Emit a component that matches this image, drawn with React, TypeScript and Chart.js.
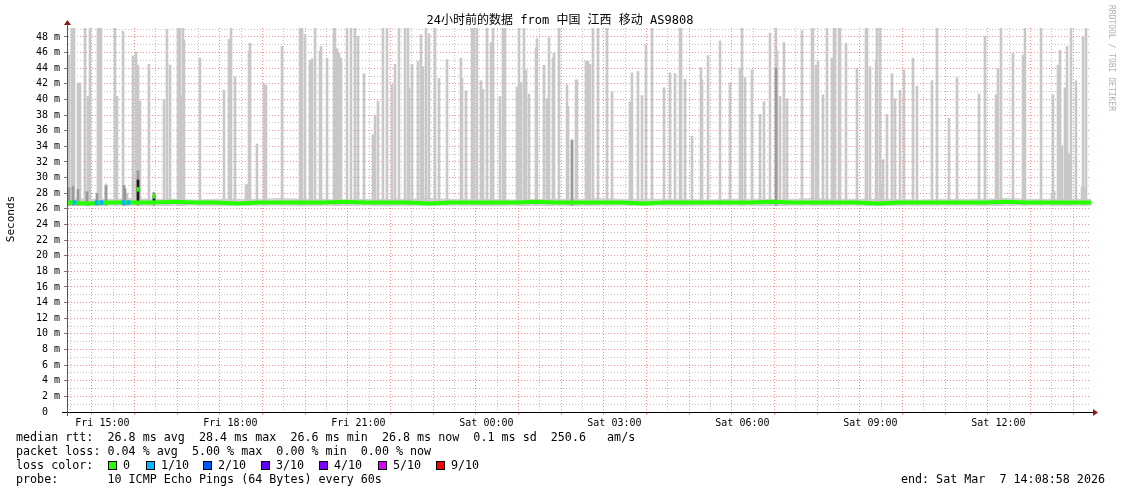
import React, { useEffect, useRef } from 'react';
import { Chart, registerables } from 'chart.js';

Chart.register(...registerables);

// ---------- time axis ----------
const AXIS_START_HOUR = 14.17; // left edge of the plot (Fri ~14:10)
const AXIS_SPAN_HOURS = 24;
const SAMPLE_STEP_SECONDS = 84.375; // one consolidated RRD sample per slot

const xTickHours = [15, 18, 21, 24, 27, 30, 33, 36];
const xTickLabels = ['Fri 15:00', 'Fri 18:00', 'Fri 21:00', 'Sat 00:00', 'Sat 03:00', 'Sat 06:00', 'Sat 09:00', 'Sat 12:00'];

// ---------- value axis (seconds, shown in ms "m") ----------
const Y_MAX = 49.15;
const yTickValues = [0, 2, 4, 6, 8, 10, 12, 14, 16, 18, 20, 22, 24, 26, 28, 30, 32, 34, 36, 38, 40, 42, 44, 46, 48];
const yTickLabels = ['0  ', '2 m', '4 m', '6 m', '8 m', '10 m', '12 m', '14 m', '16 m', '18 m', '20 m', '22 m', '24 m', '26 m', '28 m', '30 m', '32 m', '34 m', '36 m', '38 m', '40 m', '42 m', '44 m', '46 m', '48 m'];

// ---------- median rtt (ms), one value every 30 minutes from axis start ----------
const medianHalfHourly = [26.8, 26.7, 26.8, 26.8, 26.8, 26.9, 26.8, 26.8, 26.7, 26.8, 26.8, 26.8, 26.8, 26.9, 26.8, 26.8, 26.8, 26.7, 26.8, 26.8, 26.8, 26.8, 26.9, 26.8, 26.8, 26.8, 26.8, 26.7, 26.8, 26.8, 26.8, 26.8, 26.8, 26.9, 26.8, 26.8, 26.8, 26.8, 26.7, 26.8, 26.8, 26.8, 26.8, 26.8, 26.9, 26.8, 26.8, 26.8, 26.8];
const smokeLowHalfHourly = [26.4, 26.35, 26.4, 26.4, 26.35, 26.4, 26.4, 26.35, 26.4, 26.4, 26.4, 26.35, 26.4, 26.4, 26.4, 26.35, 26.4, 26.4, 26.4, 26.4, 26.35, 26.4, 26.4, 26.4, 26.35, 26.4, 26.4, 26.4, 26.4, 26.35, 26.4, 26.4, 26.4, 26.35, 26.4, 26.4, 26.4, 26.4, 26.35, 26.4, 26.4, 26.4, 26.4, 26.35, 26.4, 26.4, 26.4, 26.4, 26.4];
const smokeHighHalfHourly = [27.4, 27.3, 27.3, 27.4, 27.3, 27.3, 27.2, 27.3, 27.3, 27.3, 27.4, 27.3, 27.3, 27.2, 27.3, 27.3, 27.3, 27.4, 27.3, 27.3, 27.3, 27.2, 27.3, 27.3, 27.3, 27.4, 27.3, 27.3, 27.3, 27.3, 27.2, 27.3, 27.3, 27.3, 27.3, 27.4, 27.3, 27.3, 27.3, 27.3, 27.2, 27.3, 27.3, 27.3, 27.4, 27.3, 27.3, 27.3, 27.3];

// ---------- smoke (spread of the 10 pings), per sample slot ----------
const SMOKE_FLOOR = 26.45;
const spikeSlots = [
  2, 5, 7, 11, 12, 13, 18, 21, 23, 31, 33, 34, 39, 48, 50, 56, 60, 66, 69, 71, 73, 82, 97, 100, 103, 111, 112, 113, 114, 116, 117, 133, 157, 162, 164, 168, 179, 180, 181, 182, 183, 190, 197, 199, 215, 233, 235, 238, 243, 245, 248, 253,
  254, 260, 267, 268, 270, 272, 274, 280, 284, 288, 291, 297, 306, 308, 311, 316, 320, 325, 328, 332, 338, 341, 342, 345, 351, 354, 356, 359, 362, 368, 372, 380, 394, 395, 399, 405, 407, 410, 414, 416, 420, 424, 426, 433, 436, 438, 450, 452, 454, 457, 459, 462, 469, 470, 477, 480, 482, 486, 487, 492, 500, 501, 505, 509, 510,
  519, 520, 521, 523, 526, 531, 540, 545, 563, 565, 571, 575, 579, 585, 597, 603, 608, 613, 614, 618, 625, 634, 635, 641, 653, 663, 673, 675, 678, 685, 693, 697, 703, 709, 710, 713, 717, 720, 735, 745, 746, 749, 751, 756, 760, 765,
  767, 768, 772, 773, 779, 790, 799, 800, 803, 809, 810, 813, 815, 816, 820, 825, 828, 833, 837, 846, 850, 865, 870, 882, 890, 912, 918, 929, 931, 934, 946, 956, 958, 974, 985, 986, 987, 991, 993, 995, 998, 1000, 1002, 1004, 1009, 1015, 1016, 1017, 1019,
];
const spikeTops = [
  45.7, 49.2, 49.2, 42.1, 42.1, 42.1, 49.2, 40.4, 49.2, 49.2, 49.2, 49.2, 29.2, 49.2, 40.4, 48.7, 28.0, 45.6, 46.1, 44.4, 39.8, 44.5, 40.0, 49.0, 44.4, 49.2, 49.2, 49.2, 40.5, 49.2, 47.6, 45.3, 41.2, 47.7, 49.2, 42.9, 29.1, 29.1, 29.1, 46.2, 47.2, 34.3, 42.0, 41.8, 46.8, 49.2, 49.2, 48.3, 45.0, 45.2, 49.2, 46.2,
  46.8, 45.3, 49.2, 49.2, 46.5, 45.9, 45.3, 49.2, 49.2, 49.2, 48.1, 43.3, 35.5, 38.0, 39.8, 49.2, 49.2, 41.9, 44.5, 49.2, 49.2, 49.2, 41.5, 44.5, 44.9, 48.3, 44.2, 49.2, 48.4, 49.2, 42.7, 45.1, 45.3, 42.7, 41.1, 49.2, 49.2, 49.2, 42.4, 41.3, 49.2, 47.3, 49.2, 40.4, 49.2, 49.2, 41.6, 49.2, 42.2, 49.2, 43.8, 40.7, 46.6, 47.8, 44.4, 40.1, 47.9, 45.3, 45.9, 49.2, 41.9, 39.1, 34.8, 42.5, 42.5,
  44.9, 44.9, 44.9, 44.5, 49.2, 49.2, 49.2, 41.0, 39.7, 43.4, 43.6, 40.5, 47.0, 49.2, 41.5, 43.4, 43.3, 49.2, 49.2, 42.6, 35.3, 44.1, 42.5, 45.6, 47.5, 42.1, 44.0, 49.2, 42.8, 43.8, 38.1, 39.7, 48.5, 49.2, 46.3, 40.4, 47.3, 40.1, 48.8, 49.2, 49.2, 44.4, 45.0, 40.6, 49.2, 45.3,
  49.2, 49.2, 49.2, 49.2, 47.2, 44.0, 49.2, 49.2, 44.2, 45.1, 49.2, 49.2, 28.5, 32.3, 38.1, 43.3, 40.1, 41.2, 43.8, 45.3, 41.7, 42.4, 49.2, 37.6, 42.8, 40.7, 48.1, 40.6, 44.0, 49.2, 45.9, 45.7, 49.2, 49.2, 28.0, 40.6, 28.3, 44.4, 46.3, 34.1, 41.5, 46.8, 33.1, 49.2, 42.4, 28.8, 48.0, 28.8, 49.2,
];

// denser smoke (several pings close together)
const darkSmokeSlots = [2, 6, 11, 20, 30, 39, 57, 58, 71, 87, 505, 709];
const darkSmokeTops = [28.7, 28.9, 28.5, 28.2, 28.0, 28.9, 29.0, 28.6, 30.9, 28.1, 34.8, 44.0];
const blackSmokeSlots = [71, 87];
const blackSmokeTops = [29.7, 27.7];

// median samples that jumped above the band
const medianJumpSlots = [71, 87];
const medianJumpValues = [28.5, 27.6];

// samples with 1/10 packet loss (median drawn in the 1/10 colour)
const loss1Slots = [7, 8, 29, 30, 34, 35, 56, 57, 61, 62];

// ---------- legend ----------
const lossLabels = ['0', '1/10', '2/10', '3/10', '4/10', '5/10', '9/10'];
const lossColors = ['#26ff00', '#00b8ff', '#0059ff', '#5e00ff', '#7e00ff', '#dd00ff', '#ff0000'];
const titleText = '24小时前的数据 from 中国 江西 移动 AS9808';
const rttLine = 'median rtt:  26.8 ms avg  28.4 ms max  26.6 ms min  26.8 ms now  0.1 ms sd  250.6   am/s';
const lossLine = 'packet loss: 0.04 % avg  5.00 % max  0.00 % min  0.00 % now';
const probeLine = 'probe:       10 ICMP Echo Pings (64 Bytes) every 60s';
const endLine = 'end: Sat Mar  7 14:08:58 2026';

const slotHour = (s: number) => AXIS_START_HOUR + (s * SAMPLE_STEP_SECONDS) / 3600;
const halfHour = (k: number) => AXIS_START_HOUR + k * 0.5;

const MONO = '"DejaVu Sans Mono", "Noto Sans CJK SC", monospace';
const MAJOR = 'rgba(240,110,110,0.75)';
const MINOR = 'rgba(185,185,185,0.9)';

const decorPlugin = {
  id: 'rrdDecor',
  afterDraw(chart: any) {
    const ctx: CanvasRenderingContext2D = chart.ctx;
    const { left, right, top, bottom } = chart.chartArea;
    ctx.save();
    // axis lines
    ctx.lineWidth = 1;
    ctx.strokeStyle = '#000';
    ctx.beginPath();
    ctx.moveTo(left - 5, bottom + 0.5);
    ctx.lineTo(right + 3, bottom + 0.5);
    ctx.stroke();
    ctx.strokeStyle = '#555';
    ctx.beginPath();
    ctx.moveTo(left + 0.5, bottom + 4);
    ctx.lineTo(left + 0.5, top - 4);
    ctx.stroke();
    // arrows
    ctx.fillStyle = '#8b1a1a';
    ctx.beginPath();
    ctx.moveTo(right + 2, bottom - 3);
    ctx.lineTo(right + 7, bottom + 0.5);
    ctx.lineTo(right + 2, bottom + 4);
    ctx.closePath();
    ctx.fill();
    ctx.beginPath();
    ctx.moveTo(left - 3, top - 3);
    ctx.lineTo(left + 0.5, top - 8);
    ctx.lineTo(left + 4, top - 3);
    ctx.closePath();
    ctx.fill();

    // title
    ctx.fillStyle = '#000';
    ctx.font = `12px ${MONO}`;
    ctx.textAlign = 'center';
    ctx.textBaseline = 'middle';
    ctx.fillText(titleText, 560, 21);

    // y axis title
    ctx.save();
    ctx.translate(11, 219);
    ctx.rotate(-Math.PI / 2);
    ctx.font = `11px ${MONO}`;
    ctx.fillText('Seconds', 0, 0);
    ctx.restore();

    // watermark
    ctx.save();
    ctx.translate(1111, 5);
    ctx.rotate(Math.PI / 2);
    ctx.font = `8px ${MONO}`;
    ctx.fillStyle = '#b0b0b0';
    ctx.textAlign = 'left';
    ctx.fillText('RRDTOOL / TOBI OETIKER', 0, 0);
    ctx.restore();

    // legend rows
    ctx.font = `11.7px ${MONO}`;
    ctx.textAlign = 'left';
    ctx.fillStyle = '#000';
    ctx.fillText(rttLine, 16, 438);
    ctx.fillText(lossLine, 16, 452);
    ctx.fillText('loss color:', 16, 466);
    ctx.fillText(probeLine, 16, 480);
    const boxX = [108, 145.7, 203, 260.7, 319, 377.5, 435.7];
    lossLabels.forEach((lab, i) => {
      const bx = Math.round(boxX[i]);
      ctx.fillStyle = lossColors[i];
      ctx.fillRect(bx, 461, 9, 9);
      ctx.strokeStyle = '#000';
      ctx.strokeRect(bx + 0.5, 461.5, 8, 8);
      ctx.fillStyle = '#000';
      ctx.fillText(lab, bx + 15, 466);
    });
    ctx.textAlign = 'right';
    ctx.fillText(endLine, 1105, 480);
    ctx.restore();
  },
};

export default function App() {
  const ref = useRef<HTMLCanvasElement | null>(null);

  useEffect(() => {
    if (!ref.current) return;

    const bars = (slots: number[], tops: number[], low: number | number[]) =>
      slots.map((s, i) => ({ x: slotHour(s), y: [Array.isArray(low) ? low[i] : low, tops[i]] }));

    const chart = new Chart(ref.current, {
      type: 'bar',
      data: {
        datasets: [
          {
            type: 'bar',
            data: loss1Slots.map((s) => ({ x: slotHour(s), y: [26.55, 27.05] })),
            backgroundColor: lossColors[1],
            barThickness: 2,
            grouped: false,
            order: 0,
          } as any,
          {
            type: 'bar',
            data: medianJumpSlots.map((s, i) => ({ x: slotHour(s), y: [medianJumpValues[i] - 0.25, medianJumpValues[i] + 0.25] })),
            backgroundColor: lossColors[0],
            barThickness: 2,
            grouped: false,
            order: 1,
          } as any,
          {
            type: 'line',
            data: medianHalfHourly.map((v, k) => ({ x: halfHour(k), y: v })),
            borderColor: lossColors[0],
            borderWidth: 4,
            pointRadius: 0,
            tension: 0,
            fill: false,
            order: 2,
          } as any,
          {
            type: 'bar',
            data: bars(blackSmokeSlots, blackSmokeTops, 26.9),
            backgroundColor: '#1a1a1a',
            barThickness: 2,
            grouped: false,
            order: 3,
          } as any,
          {
            type: 'bar',
            data: bars(darkSmokeSlots, darkSmokeTops, SMOKE_FLOOR),
            backgroundColor: '#9a9a9a',
            barThickness: 2,
            grouped: false,
            order: 4,
          } as any,
          {
            type: 'bar',
            data: bars(spikeSlots, spikeTops, SMOKE_FLOOR),
            backgroundColor: '#c8c8c8',
            barThickness: 2,
            grouped: false,
            order: 5,
          } as any,
          {
            type: 'line',
            data: smokeHighHalfHourly.map((v, k) => ({ x: halfHour(k), y: v })),
            borderWidth: 0,
            borderColor: 'rgba(0,0,0,0)',
            backgroundColor: '#d2d2d2',
            pointRadius: 0,
            tension: 0,
            fill: '+1',
            order: 6,
          } as any,
          {
            type: 'line',
            data: smokeLowHalfHourly.map((v, k) => ({ x: halfHour(k), y: v })),
            borderWidth: 0,
            borderColor: 'rgba(0,0,0,0)',
            pointRadius: 0,
            tension: 0,
            fill: false,
            order: 7,
          } as any,
        ],
      },
      options: {
        animation: false,
        responsive: false,
        devicePixelRatio: 1,
        events: [],
        layout: { padding: { left: 0, right: 30, top: 28, bottom: 0 } },
        plugins: { legend: { display: false }, tooltip: { enabled: false }, title: { display: false } },
        scales: {
          x: {
            type: 'linear',
            min: AXIS_START_HOUR,
            max: AXIS_START_HOUR + AXIS_SPAN_HOURS,
            offset: false,
            afterBuildTicks: (scale: any) => {
              const t: any[] = [];
              for (let h = Math.ceil(AXIS_START_HOUR * 2) / 2; h < AXIS_START_HOUR + AXIS_SPAN_HOURS; h += 0.5) t.push({ value: h });
              scale.ticks = t;
            },
            afterFit: (scale: any) => {
              scale.height = 82;
            },
            ticks: {
              autoSkip: false,
              maxRotation: 0,
              minRotation: 0,
              padding: 2,
              color: '#000',
              font: { family: MONO, size: 10 },
              callback: (v: any) => {
                const i = xTickHours.indexOf(Number(v));
                return i >= 0 ? xTickLabels[i] : '';
              },
            },
            grid: {
              color: (c: any) => (c.tick && Number.isInteger(c.tick.value) ? MAJOR : MINOR),
              lineWidth: 1,
              drawTicks: true,
              tickLength: 3,
              tickBorderDash: [],
              tickColor: (c: any) => (c.tick && Number.isInteger(c.tick.value) ? MAJOR : 'rgba(0,0,0,0)'),
            },
            border: { display: true, color: '#000', width: 1, dash: [1, 2] },
          },
          y: {
            type: 'linear',
            min: 0,
            max: Y_MAX,
            afterBuildTicks: (scale: any) => {
              const t: any[] = [];
              for (let v = 0; v <= Math.floor(Y_MAX); v += 1) t.push({ value: v });
              scale.ticks = t;
            },
            afterFit: (scale: any) => {
              scale.width = 67;
            },
            ticks: {
              autoSkip: false,
              padding: 4,
              color: '#000',
              font: { family: MONO, size: 10 },
              callback: (v: any) => {
                const i = yTickValues.indexOf(Number(v));
                return i >= 0 ? yTickLabels[i] : '';
              },
            },
            grid: {
              color: (c: any) => (c.tick && c.tick.value % 2 === 0 ? MAJOR : MINOR),
              lineWidth: 1,
              drawTicks: true,
              tickLength: 3,
              tickBorderDash: [],
              tickColor: (c: any) => (c.tick && c.tick.value % 2 === 0 ? '#777' : 'rgba(0,0,0,0)'),
            },
            border: { display: true, color: '#555', width: 1, dash: [1, 2] },
          },
        },
      },
      plugins: [decorPlugin],
    } as any);

    return () => chart.destroy();
  }, []);

  return (
    <div style={{ position: 'fixed', left: 0, top: 0, width: 1121, height: 494, background: '#fff' }}>
      <canvas ref={ref} width={1121} height={494} style={{ display: 'block', width: 1121, height: 494 }} />
    </div>
  );
}
